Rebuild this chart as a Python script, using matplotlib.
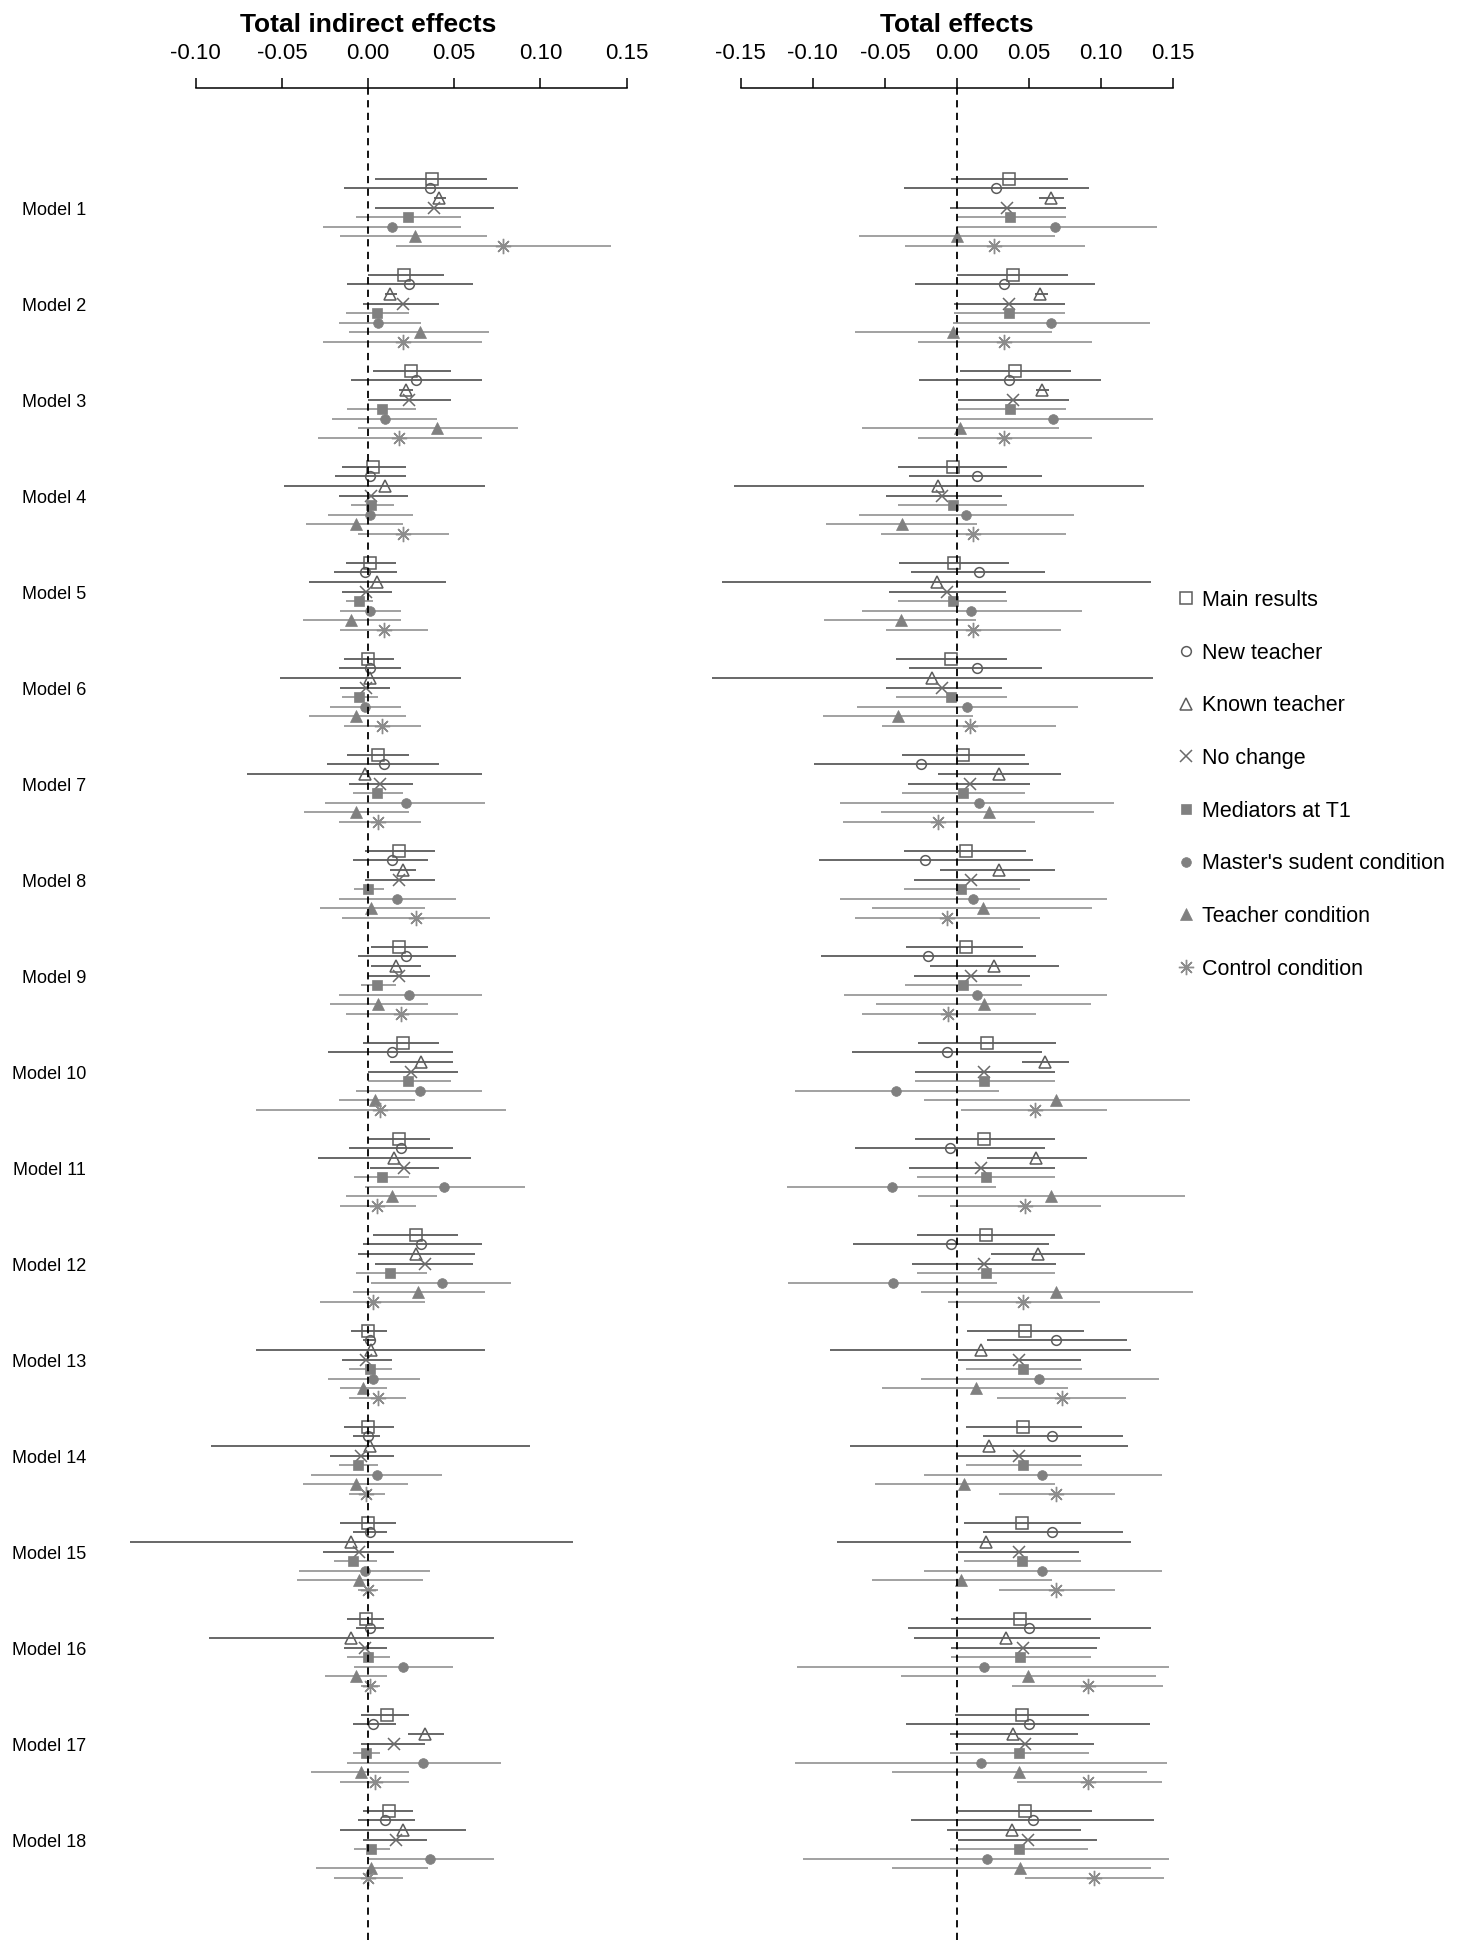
import matplotlib
matplotlib.use("Agg")
import matplotlib.pyplot as plt
from matplotlib.transforms import blended_transform_factory
from matplotlib.lines import Line2D

plt.rcParams['font.family'] = ['Liberation Sans', 'DejaVu Sans']

models = [f"Model {i}" for i in range(1, 19)]
conditions = ["Main results", "New teacher", "Known teacher", "No change",
              "Mediators at T1", "Master's sudent condition", "Teacher condition",
              "Control condition"]

# ---- Total indirect effects: estimate, lower and upper bound per model ----
ind_main_est = [0.037, 0.021, 0.025, 0.003, 0.001, 0.000, 0.006, 0.018, 0.018, 0.020, 0.018, 0.028, 0.000, 0.000, 0.000, -0.001, 0.011, 0.012]
ind_main_lo = [0.004, 0.000, 0.003, -0.015, -0.013, -0.014, -0.012, -0.002, 0.002, -0.003, 0.000, 0.003, -0.010, -0.014, -0.016, -0.012, -0.004, -0.003]
ind_main_hi = [0.069, 0.044, 0.048, 0.022, 0.016, 0.015, 0.024, 0.039, 0.035, 0.041, 0.036, 0.052, 0.011, 0.015, 0.016, 0.009, 0.024, 0.026]

ind_new_est = [0.036, 0.024, 0.028, 0.001, -0.002, 0.001, 0.009, 0.014, 0.022, 0.014, 0.019, 0.031, 0.001, 0.000, 0.001, 0.001, 0.003, 0.010]
ind_new_lo = [-0.014, -0.012, -0.010, -0.019, -0.020, -0.017, -0.024, -0.009, -0.006, -0.023, -0.011, -0.003, -0.003, -0.009, -0.009, -0.007, -0.009, -0.006]
ind_new_hi = [0.087, 0.061, 0.066, 0.022, 0.017, 0.019, 0.041, 0.035, 0.051, 0.049, 0.049, 0.066, 0.004, 0.007, 0.011, 0.009, 0.016, 0.027]

ind_known_est = [0.041, 0.013, 0.022, 0.010, 0.005, 0.001, -0.002, 0.020, 0.016, 0.031, 0.015, 0.028, 0.002, 0.001, -0.010, -0.010, 0.033, 0.020]
ind_known_lo = [0.038, 0.010, 0.018, -0.049, -0.034, -0.051, -0.070, 0.013, 0.002, 0.013, -0.029, -0.006, -0.065, -0.091, -0.138, -0.092, 0.023, -0.016]
ind_known_hi = [0.045, 0.017, 0.026, 0.068, 0.045, 0.054, 0.066, 0.028, 0.031, 0.049, 0.060, 0.062, 0.068, 0.094, 0.119, 0.073, 0.044, 0.057]

ind_noch_est = [0.038, 0.020, 0.024, 0.002, -0.001, -0.001, 0.007, 0.018, 0.018, 0.025, 0.021, 0.033, -0.001, -0.004, -0.005, -0.002, 0.015, 0.016]
ind_noch_lo = [0.004, -0.003, 0.000, -0.017, -0.015, -0.016, -0.011, -0.002, 0.000, 0.000, 0.001, 0.004, -0.015, -0.022, -0.026, -0.014, -0.004, -0.003]
ind_noch_hi = [0.073, 0.041, 0.048, 0.023, 0.014, 0.013, 0.026, 0.039, 0.036, 0.052, 0.041, 0.061, 0.014, 0.015, 0.015, 0.011, 0.033, 0.034]

ind_med_est = [0.023, 0.005, 0.008, 0.002, -0.005, -0.005, 0.005, 0.000, 0.005, 0.023, 0.008, 0.013, 0.001, -0.006, -0.009, 0.000, -0.001, 0.002]
ind_med_lo = [-0.007, -0.013, -0.012, -0.010, -0.013, -0.015, -0.009, -0.008, -0.004, 0.000, -0.008, -0.007, -0.011, -0.017, -0.020, -0.012, -0.009, -0.008]
ind_med_hi = [0.054, 0.024, 0.028, 0.015, 0.003, 0.006, 0.020, 0.009, 0.016, 0.048, 0.024, 0.034, 0.014, 0.006, 0.005, 0.013, 0.007, 0.013]

ind_mas_est = [0.014, 0.006, 0.010, 0.001, 0.001, -0.002, 0.022, 0.017, 0.024, 0.030, 0.044, 0.043, 0.003, 0.005, -0.002, 0.020, 0.032, 0.036]
ind_mas_lo = [-0.026, -0.017, -0.021, -0.023, -0.016, -0.022, -0.025, -0.017, -0.017, -0.007, -0.002, 0.002, -0.023, -0.033, -0.040, -0.008, -0.012, 0.000]
ind_mas_hi = [0.054, 0.031, 0.040, 0.026, 0.019, 0.019, 0.068, 0.051, 0.066, 0.066, 0.091, 0.083, 0.030, 0.043, 0.036, 0.049, 0.077, 0.073]

ind_tea_est = [0.027, 0.030, 0.040, -0.007, -0.010, -0.007, -0.007, 0.002, 0.006, 0.004, 0.014, 0.029, -0.003, -0.007, -0.005, -0.007, -0.004, 0.002]
ind_tea_lo = [-0.016, -0.011, -0.006, -0.036, -0.038, -0.034, -0.037, -0.028, -0.022, -0.017, -0.013, -0.009, -0.016, -0.038, -0.041, -0.025, -0.033, -0.030]
ind_tea_hi = [0.069, 0.070, 0.087, 0.020, 0.019, 0.022, 0.024, 0.033, 0.035, 0.027, 0.040, 0.068, 0.011, 0.023, 0.032, 0.011, 0.024, 0.035]

ind_con_est = [0.078, 0.020, 0.018, 0.020, 0.009, 0.008, 0.006, 0.028, 0.019, 0.007, 0.005, 0.003, 0.006, -0.001, 0.000, 0.001, 0.004, 0.000]
ind_con_lo = [0.016, -0.026, -0.029, -0.006, -0.016, -0.014, -0.017, -0.015, -0.013, -0.065, -0.016, -0.028, -0.011, -0.011, -0.006, -0.004, -0.016, -0.020]
ind_con_hi = [0.141, 0.066, 0.066, 0.047, 0.035, 0.031, 0.031, 0.071, 0.052, 0.080, 0.028, 0.033, 0.022, 0.010, 0.006, 0.007, 0.024, 0.020]

# ---- Total effects ----
tot_main_est = [0.036, 0.039, 0.040, -0.003, -0.002, -0.004, 0.004, 0.006, 0.006, 0.021, 0.019, 0.020, 0.047, 0.046, 0.045, 0.044, 0.045, 0.047]
tot_main_lo = [-0.004, 0.000, 0.002, -0.041, -0.040, -0.042, -0.038, -0.037, -0.035, -0.027, -0.029, -0.028, 0.007, 0.006, 0.005, -0.004, -0.001, 0.001]
tot_main_hi = [0.077, 0.077, 0.079, 0.035, 0.036, 0.035, 0.047, 0.048, 0.046, 0.069, 0.068, 0.068, 0.088, 0.087, 0.086, 0.093, 0.092, 0.094]

tot_new_est = [0.027, 0.033, 0.036, 0.014, 0.015, 0.014, -0.025, -0.022, -0.020, -0.007, -0.005, -0.004, 0.069, 0.066, 0.066, 0.050, 0.050, 0.053]
tot_new_lo = [-0.037, -0.029, -0.026, -0.033, -0.032, -0.033, -0.099, -0.096, -0.094, -0.073, -0.071, -0.072, 0.021, 0.018, 0.018, -0.034, -0.035, -0.032]
tot_new_hi = [0.092, 0.096, 0.100, 0.059, 0.061, 0.059, 0.050, 0.053, 0.055, 0.059, 0.061, 0.064, 0.118, 0.115, 0.115, 0.135, 0.134, 0.137]

tot_known_est = [0.065, 0.058, 0.059, -0.013, -0.014, -0.017, 0.029, 0.029, 0.026, 0.061, 0.055, 0.056, 0.017, 0.022, 0.020, 0.034, 0.039, 0.038]
tot_known_lo = [0.057, 0.054, 0.055, -0.155, -0.163, -0.170, -0.013, -0.012, -0.019, 0.045, 0.021, 0.024, -0.088, -0.074, -0.083, -0.030, -0.005, -0.007]
tot_known_hi = [0.074, 0.063, 0.064, 0.130, 0.135, 0.136, 0.072, 0.068, 0.071, 0.078, 0.090, 0.089, 0.121, 0.119, 0.121, 0.099, 0.084, 0.086]

tot_noch_est = [0.035, 0.036, 0.039, -0.010, -0.007, -0.010, 0.009, 0.010, 0.010, 0.019, 0.017, 0.019, 0.043, 0.043, 0.043, 0.046, 0.047, 0.049]
tot_noch_lo = [-0.005, -0.002, 0.001, -0.049, -0.047, -0.049, -0.034, -0.030, -0.030, -0.029, -0.033, -0.031, 0.001, 0.001, 0.001, -0.004, -0.001, 0.001]
tot_noch_hi = [0.076, 0.075, 0.078, 0.031, 0.034, 0.031, 0.051, 0.051, 0.051, 0.068, 0.068, 0.069, 0.086, 0.086, 0.085, 0.097, 0.095, 0.097]

tot_med_est = [0.037, 0.036, 0.037, -0.003, -0.003, -0.004, 0.004, 0.003, 0.004, 0.019, 0.020, 0.020, 0.046, 0.046, 0.045, 0.044, 0.043, 0.043]
tot_med_lo = [0.000, -0.002, 0.000, -0.041, -0.041, -0.042, -0.038, -0.037, -0.036, -0.029, -0.028, -0.028, 0.006, 0.006, 0.005, -0.004, -0.005, -0.005]
tot_med_hi = [0.076, 0.075, 0.076, 0.035, 0.035, 0.035, 0.047, 0.044, 0.045, 0.068, 0.068, 0.068, 0.087, 0.087, 0.086, 0.093, 0.092, 0.091]

tot_mas_est = [0.068, 0.065, 0.067, 0.006, 0.010, 0.007, 0.015, 0.011, 0.014, -0.042, -0.045, -0.044, 0.057, 0.059, 0.059, 0.019, 0.017, 0.021]
tot_mas_lo = [0.000, -0.003, 0.000, -0.068, -0.066, -0.069, -0.081, -0.081, -0.078, -0.112, -0.118, -0.117, -0.025, -0.023, -0.023, -0.111, -0.112, -0.107]
tot_mas_hi = [0.139, 0.134, 0.136, 0.081, 0.087, 0.084, 0.109, 0.104, 0.104, 0.029, 0.027, 0.028, 0.140, 0.142, 0.142, 0.147, 0.146, 0.147]

tot_tea_est = [0.000, -0.003, 0.002, -0.038, -0.039, -0.041, 0.022, 0.018, 0.019, 0.069, 0.065, 0.069, 0.013, 0.005, 0.003, 0.049, 0.043, 0.044]
tot_tea_lo = [-0.068, -0.071, -0.066, -0.091, -0.092, -0.093, -0.053, -0.059, -0.056, -0.023, -0.027, -0.025, -0.052, -0.057, -0.059, -0.039, -0.045, -0.045]
tot_tea_hi = [0.068, 0.066, 0.071, 0.014, 0.013, 0.011, 0.095, 0.094, 0.093, 0.162, 0.158, 0.164, 0.077, 0.068, 0.066, 0.138, 0.132, 0.135]

tot_con_est = [0.026, 0.033, 0.033, 0.011, 0.011, 0.009, -0.013, -0.007, -0.006, 0.054, 0.047, 0.046, 0.073, 0.069, 0.069, 0.091, 0.091, 0.095]
tot_con_lo = [-0.036, -0.027, -0.027, -0.053, -0.049, -0.052, -0.079, -0.071, -0.066, 0.003, -0.005, -0.006, 0.028, 0.029, 0.029, 0.038, 0.042, 0.047]
tot_con_hi = [0.089, 0.094, 0.094, 0.076, 0.072, 0.069, 0.054, 0.058, 0.055, 0.104, 0.100, 0.099, 0.117, 0.110, 0.110, 0.143, 0.142, 0.144]

indirect_ticks = [-0.10, -0.05, 0.00, 0.05, 0.10, 0.15]
total_ticks = [-0.15, -0.10, -0.05, 0.00, 0.05, 0.10, 0.15]

indirect = [
    (ind_main_est, ind_main_lo, ind_main_hi), (ind_new_est, ind_new_lo, ind_new_hi),
    (ind_known_est, ind_known_lo, ind_known_hi), (ind_noch_est, ind_noch_lo, ind_noch_hi),
    (ind_med_est, ind_med_lo, ind_med_hi), (ind_mas_est, ind_mas_lo, ind_mas_hi),
    (ind_tea_est, ind_tea_lo, ind_tea_hi), (ind_con_est, ind_con_lo, ind_con_hi),
]
total = [
    (tot_main_est, tot_main_lo, tot_main_hi), (tot_new_est, tot_new_lo, tot_new_hi),
    (tot_known_est, tot_known_lo, tot_known_hi), (tot_noch_est, tot_noch_lo, tot_noch_hi),
    (tot_med_est, tot_med_lo, tot_med_hi), (tot_mas_est, tot_mas_lo, tot_mas_hi),
    (tot_tea_est, tot_tea_lo, tot_tea_hi), (tot_con_est, tot_con_lo, tot_con_hi),
]

DARK = "#5c5c5c"
LIGHT = "#9a9a9a"
FILL = "#808080"
styles = [
    dict(marker="s", ms=8, mfc="none", mec=DARK, mew=1.1),
    dict(marker="o", ms=7, mfc="none", mec=DARK, mew=1.1),
    dict(marker="^", ms=8.5, mfc="none", mec=DARK, mew=1.1),
    dict(marker="x", ms=8, mec="#6a6a6a", mew=1.1),
    dict(marker="s", ms=7, mfc=FILL, mec=FILL, mew=0.5),
    dict(marker="o", ms=7, mfc=FILL, mec=FILL, mew=0.5),
    dict(marker="^", ms=8, mfc=FILL, mec=FILL, mew=0.5),
    dict(marker=(8, 2, 0), ms=11, mec="#8c8c8c", mew=1.0),
]
line_colors = [DARK] * 4 + [LIGHT] * 4

W, H = 1464, 1942
fig = plt.figure(figsize=(W / 100, H / 100), dpi=100)

top_px, bot_px = 88, 1940
ax_bottom = 1 - bot_px / H
ax_height = (bot_px - top_px) / H
ax_left = fig.add_axes([118.1 / W, ax_bottom, 543.0 / W, ax_height])
ax_right = fig.add_axes([697.5 / W, ax_bottom, 504.4 / W, ax_height])

n_slots = 10


def draw_panel(ax, data, xlim, ticks, title):
    ax.set_facecolor("none")
    ax.set_xlim(*xlim)
    ax.set_ylim(177 + 6.45, -9.45)
    for k, (est, lo, hi) in enumerate(data):
        ys = [m * n_slots + k for m in range(len(est))]
        ax.hlines(ys, lo, hi, color=line_colors[k], lw=1.3, zorder=2)
        ax.plot(est, ys, ls="none", zorder=3, **styles[k])
    ax.axvline(0, color="black", lw=1.3, ls=(0, (4, 3)), zorder=4)
    for side in ["left", "right", "bottom"]:
        ax.spines[side].set_visible(False)
    ax.spines["top"].set_bounds(ticks[0], ticks[-1])
    ax.spines["top"].set_linewidth(1.1)
    ax.xaxis.tick_top()
    ax.set_xticks(ticks)
    ax.set_xticklabels([f"{t:.2f}" for t in ticks])
    ax.tick_params(axis="x", direction="out", length=7.5, width=1.1, pad=9.8,
                   labelsize=16, colors="black")
    ax.set_yticks([])
    tr = blended_transform_factory(ax.transData, ax.transAxes)
    ax.text(0.0, 1.0342, title, transform=tr, ha="center", va="center",
            fontsize=19, fontweight="bold")


draw_panel(ax_left, indirect, (-0.145, 0.170), indirect_ticks, "Total indirect effects")
draw_panel(ax_right, total, (-0.180, 0.170), total_ticks, "Total effects")

label_tr = blended_transform_factory(fig.transFigure, ax_left.transData)
for m, name in enumerate(models):
    ax_left.text(86 / W, m * n_slots + 3.3, name, transform=label_tr,
                 ha="right", va="center", fontsize=13)

handles = [Line2D([], [], ls="none", **styles[k]) for k in range(len(conditions))]
fig.legend(handles, conditions, loc="upper left", bbox_to_anchor=(1180 / W, 1 - 590 / H),
           frameon=False, fontsize=15.5, handlelength=0.6, handletextpad=0.4,
           labelspacing=1.47, borderpad=0, borderaxespad=0)

fig.savefig("out.png", dpi=100, facecolor="white")
